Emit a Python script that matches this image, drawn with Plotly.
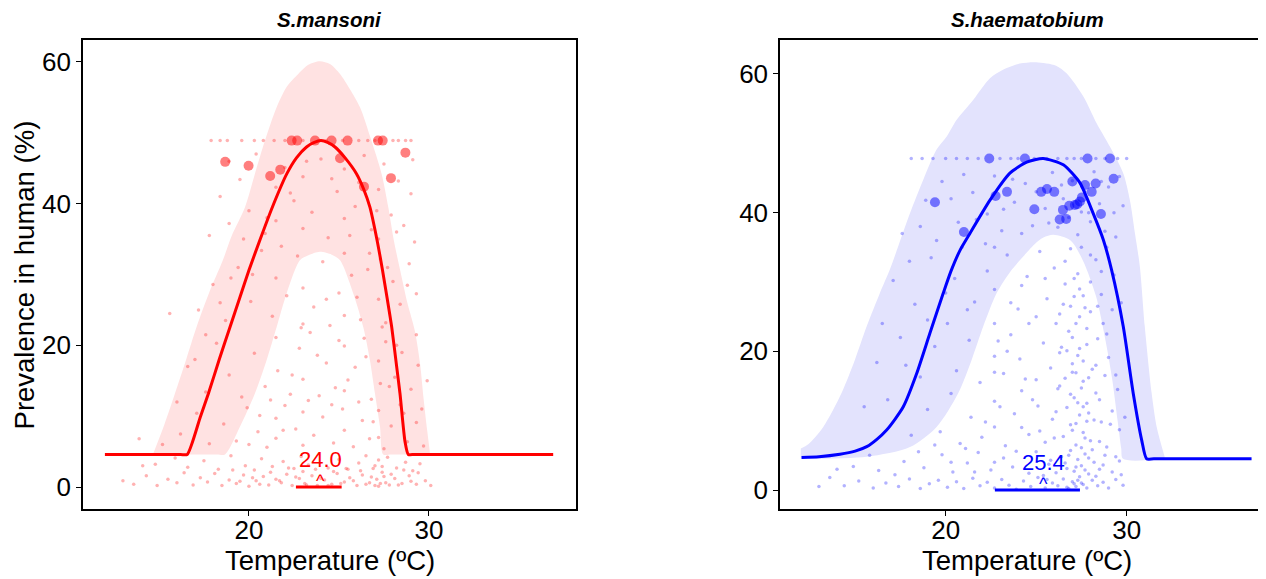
import plotly.graph_objects as go

FONT = "Liberation Sans, Arial, sans-serif"

# ---------------- S. mansoni (left panel) ----------------
man_curve_x = [12.0, 16.2, 16.57, 17.3, 17.75, 18.35, 18.95, 19.5, 20.0, 20.6, 21.3, 22.1, 22.65, 23.2,
               23.6, 24.0, 24.4, 24.78, 25.33, 25.98, 26.38, 26.72, 27.12, 27.42, 27.68, 27.93, 28.2, 28.39,
               28.67, 28.85, 29.2, 36.9]
man_curve_y = [4.6, 4.6, 4.6, 9.9, 13.2, 18.0, 22.6, 26.8, 30.6, 34.8, 39.5, 44.2, 46.5, 48.0,
               48.6, 48.9, 48.6, 48.0, 46.5, 44.2, 42.0, 39.5, 34.8, 30.6, 26.6, 22.6, 17.1, 13.2,
               6.4, 4.6, 4.6, 4.6]

# credible band, both edges left -> right
man_upper_x = [14.68, 15.3, 15.89, 16.5, 17.09, 17.8, 18.55, 19.05, 19.78, 20.33, 20.89, 21.54, 22.1, 22.74,
               23.3, 23.94, 24.5, 25.06, 25.6, 26.17, 26.8, 27.37, 27.74, 28.05, 28.4, 28.8, 29.22, 29.5,
               29.7, 29.9, 30.06]
man_upper_y = [4.7, 8.8, 13.2, 17.9, 22.6, 27.5, 32.0, 35.5, 39.5, 44.2, 48.9, 53.6, 56.5, 58.3,
               59.6, 60.1, 59.7, 58.3, 56.2, 53.6, 48.9, 44.2, 39.5, 34.8, 30.6, 26.0, 22.0, 17.5,
               12.5, 8.0, 4.7]
man_lower_x = [14.68, 18.2, 18.67, 19.5, 20.33, 20.98, 21.54, 22.09, 22.83, 23.3, 23.94, 24.6, 25.06, 25.8,
               26.35, 26.72, 27.0, 27.28, 27.46, 27.9, 30.06]
man_lower_y = [4.6, 4.6, 4.6, 8.5, 13.2, 17.9, 22.6, 27.3, 32.0, 32.7, 33.2, 32.8, 32.0, 27.3,
               22.6, 17.9, 13.2, 8.5, 4.6, 4.6, 4.6]

# site-level points drawn large
man_obs = [(18.68, 45.9), (19.98, 45.35), (21.18, 43.9), (21.74, 44.8), (22.37, 48.9), (22.68, 48.9),
           (23.67, 48.9), (24.59, 48.9), (25.06, 46.4), (25.48, 48.9), (26.39, 42.4), (27.17, 48.9),
           (27.43, 48.9), (27.89, 43.6), (28.69, 47.2)]

# survey points (small, faint)
man_pts = [
    (13.6, 0.4), (14.3, 1.6), (14.9, 0.2), (15.5, 1.1), (16.0, 0.6), (16.4, 2.0), (16.9, 0.3), (17.3, 1.3),
    (17.7, 0.7), (18.1, 1.9), (18.5, 0.2), (18.9, 1.0), (19.3, 0.5), (19.7, 1.7), (20.0, 0.1), (20.4, 0.9),
    (20.8, 1.5), (21.1, 0.3), (21.5, 1.1), (21.8, 0.6), (22.1, 1.8), (22.4, 0.2), (22.8, 1.2), (23.1, 0.5),
    (23.5, 1.6), (23.8, 0.2), (24.2, 1.0), (24.6, 0.4), (24.9, 1.9), (25.3, 0.7), (25.6, 1.3), (26.0, 0.2),
    (26.3, 1.7), (26.7, 0.6), (27.0, 0.2), (27.1, 1.1), (27.3, 0.5), (27.5, 1.5), (27.8, 0.3), (28.1, 1.2),
    (28.5, 0.5), (28.9, 1.6), (29.3, 0.4), (29.8, 0.9), (30.1, 0.2),
    (19.1, 2.4), (19.5, 0.8), (20.2, 1.3), (20.6, 0.4), (21.2, 2.1), (21.7, 0.9), (22.2, 2.7), (22.6, 1.4),
    (23.0, 2.2), (23.2, 0.3), (23.7, 2.5), (24.0, 1.2), (24.4, 0.2), (24.7, 2.2), (25.1, 0.5), (25.4, 2.6),
    (25.8, 0.9), (26.2, 2.3), (26.5, 0.4), (26.8, 1.4), (27.0, 3.0), (27.2, 0.1), (27.4, 2.1), (27.6, 0.6),
    (27.9, 1.8), (28.3, 0.3), (28.6, 2.4), (29.0, 0.8), (29.4, 2.0), (13.0, 0.9), (14.1, 3.0), (15.2, 6.0),
    (14.8, 3.2), (15.9, 4.1), (16.6, 2.8), (17.5, 3.7), (18.3, 2.5), (19.0, 4.4), (19.8, 3.0), (20.3, 2.4),
    (20.7, 4.0), (21.3, 2.9), (21.9, 3.6), (22.5, 2.6), (22.9, 4.3), (23.3, 3.1), (24.4, 2.7), (25.0, 3.9),
    (25.5, 2.5), (26.1, 3.4), (26.5, 4.4), (26.9, 2.6), (27.2, 3.8), (27.4, 2.9), (27.7, 4.2), (28.2, 2.7),
    (28.7, 3.5), (29.1, 2.3), (29.5, 3.3),
    (13.9, 6.8), (16.2, 7.5), (17.1, 10.4), (17.8, 6.1), (18.6, 8.9), (19.3, 6.5), (19.9, 11.2), (20.5, 7.8),
    (21.0, 5.6), (21.5, 9.7), (21.5, 6.9), (22.0, 11.5), (22.6, 8.2), (23.0, 5.9), (23.0, 10.6), (23.6, 7.3),
    (24.1, 9.9), (24.7, 6.2), (25.2, 11.0), (25.3, 8.0), (25.8, 5.7), (26.3, 9.4), (26.7, 6.8), (27.2, 10.8),
    (27.2, 7.0), (27.5, 5.4), (27.9, 8.6), (28.4, 11.6), (28.8, 6.4), (29.3, 9.1), (29.7, 5.8), (16.0, 12.0),
    (20.0, 6.0), (20.6, 10.1), (21.2, 12.3), (21.9, 8.0), (22.4, 15.8), (22.9, 22.5), (23.3, 12.2),
    (23.8, 18.6), (24.3, 26.5), (24.6, 11.6), (25.0, 20.7), (25.5, 15.1), (26.0, 26.8), (26.1, 12.0),
    (26.5, 18.4), (26.9, 9.2), (27.4, 22.6), (27.8, 14.2), (28.2, 20.0), (28.6, 10.4),
    (15.6, 24.5), (16.6, 17.0), (17.6, 13.4), (18.2, 20.3), (18.9, 15.8), (19.6, 12.7), (20.3, 18.9),
    (20.9, 14.2), (21.5, 21.1), (21.6, 16.4), (22.3, 13.1), (22.8, 19.6), (23.0, 15.2), (23.4, 21.8),
    (23.9, 12.9), (24.3, 17.5), (24.8, 14.0), (25.3, 19.9), (25.3, 13.6), (25.9, 16.9), (26.4, 21.0),
    (26.8, 12.4), (27.2, 17.8), (27.3, 14.6), (27.6, 20.5), (28.1, 15.5), (28.5, 19.0), (29.0, 13.8),
    (29.4, 17.2), (29.9, 15.0),
    (17.2, 25.0), (18.0, 28.6), (18.7, 23.5), (19.4, 31.0), (20.1, 26.2), (20.7, 33.4), (21.3, 24.1),
    (21.5, 29.5), (22.1, 27.0), (22.7, 32.6), (23.0, 23.0), (23.0, 28.1), (23.6, 25.4), (24.1, 31.8),
    (24.5, 22.8), (25.0, 27.4), (25.3, 24.2), (25.3, 33.0), (25.7, 29.9), (26.2, 23.6), (26.6, 30.7),
    (27.2, 26.5), (27.3, 32.2), (27.6, 23.2), (28.0, 29.0), (28.4, 25.8), (28.9, 31.5), (29.3, 27.3),
    (17.0, 18.0), (17.6, 21.5), (18.4, 26.0), (19.0, 29.5), (19.7, 35.0), (20.2, 30.0), (21.0, 38.0),
    (21.8, 34.0), (22.3, 41.5), (23.2, 46.0), (24.6, 43.5), (25.6, 35.5), (26.1, 43.0), (26.7, 33.0),
    (27.1, 39.0), (27.7, 31.0), (28.2, 36.0), (28.8, 28.5), (29.3, 21.5), (29.6, 11.0),
    (17.8, 35.5), (18.4, 41.0), (18.9, 37.2), (18.9, 46.0), (19.5, 43.4), (20.0, 39.0), (20.4, 47.0),
    (20.9, 35.8), (21.5, 42.3), (21.5, 37.6), (22.0, 45.1), (22.5, 40.4), (23.0, 36.5), (23.0, 43.8),
    (23.5, 38.8), (24.0, 46.3), (24.4, 35.2), (24.9, 41.7), (25.3, 37.9), (25.3, 44.9), (25.9, 39.6),
    (26.4, 46.8), (26.8, 36.3), (27.2, 42.0), (27.2, 35.0), (27.5, 45.6), (27.9, 38.4), (28.3, 43.2),
    (28.6, 36.9), (29.0, 41.4), (29.1, 46.2), (29.2, 34.6),
    (17.9, 48.9), (18.4, 48.9), (18.8, 48.9), (19.6, 48.9), (20.3, 48.9), (20.8, 48.9), (21.4, 48.9),
    (22.0, 48.9), (23.0, 48.9), (24.3, 48.9), (25.2, 48.9), (26.1, 48.9), (26.6, 48.9), (27.0, 48.9),
    (28.0, 48.9), (28.3, 48.9), (28.7, 48.9), (29.0, 48.9),
]

man_topt = 24.0
man_topt_range = [22.61, 25.15]

# ---------------- S. haematobium (right panel) ----------------
hae_curve_x = [12.04, 13.0, 14.16, 15.0, 15.64, 16.2, 16.74, 17.2, 17.66, 18.4, 19.13, 19.87, 20.3, 20.8, 21.34,
               22.45, 23.55, 24.48, 25.39, 26.5, 27.42, 28.15, 28.71, 29.17, 29.81, 30.36, 30.83, 31.1, 31.5, 36.9]
hae_curve_y = [4.7, 4.8, 5.15, 5.6, 6.25, 7.3, 8.66, 10.2, 12.0, 16.8, 22.6, 28.4, 31.6, 34.6, 37.0,
               41.8, 45.7, 47.3, 47.8, 46.9, 44.3, 39.9, 36.1, 31.7, 23.6, 14.0, 7.2, 4.5, 4.5, 4.5]

hae_upper_x = [12.0, 12.41, 13.24, 14.25, 14.99, 15.64, 16.37, 16.95, 17.4, 18.03, 18.76, 19.5, 20.06, 20.61,
               21.53, 22.45, 23.17, 24.1, 25.0, 26.1, 26.68, 27.6, 28.34, 29.08, 29.81, 30.18, 30.46, 30.73,
               31.0, 31.38, 31.66, 32.1]
hae_upper_y = [6.0, 6.6, 9.1, 14.0, 18.8, 23.6, 28.4, 32.0, 35.3, 39.9, 44.7, 49.1, 51.0, 53.4,
               56.3, 59.4, 60.6, 61.5, 61.7, 61.2, 60.1, 56.8, 52.9, 49.5, 45.7, 41.8, 37.0, 32.2,
               23.6, 14.0, 9.1, 4.8]
hae_lower_x = [12.0, 15.64, 18.03, 19.5, 20.7, 21.44, 22.08, 22.82, 23.6, 24.3, 24.9, 25.4, 25.95, 26.9, 27.6,
               28.3, 28.8, 29.2, 29.5, 29.7, 29.8, 32.1]
hae_lower_y = [4.5, 4.8, 6.2, 9.1, 14.0, 18.8, 23.6, 28.4, 31.6, 33.7, 35.4, 36.4, 36.8, 36.0, 33.0,
               28.0, 22.0, 16.0, 10.0, 6.0, 4.5, 4.5]

hae_obs = [(19.41, 41.5), (21.01, 37.2), (22.41, 47.8), (22.76, 42.4), (23.39, 43.0), (24.38, 47.8),
           (24.9, 40.5), (25.28, 43.0), (25.6, 43.4), (26.0, 43.0), (26.3, 39.0), (26.66, 39.1),
           (26.48, 40.4), (26.83, 41.0), (27.0, 44.5), (27.14, 41.1), (27.27, 41.2), (27.42, 41.6),
           (27.53, 42.2), (27.7, 44.0), (27.84, 47.8), (28.07, 43.0), (28.29, 44.2), (28.58, 39.8),
           (29.08, 47.8), (29.28, 44.9)]

hae_pts = [
    (13.6, 1.8), (14.4, 0.6), (15.2, 1.3), (16.0, 0.3), (16.7, 1.0), (17.4, 0.5), (18.0, 1.6), (18.6, 0.2),
    (19.1, 0.9), (19.6, 1.4), (20.1, 0.4), (20.6, 1.2), (21.0, 0.2), (21.5, 1.7), (21.9, 0.6), (22.3, 1.1),
    (22.7, 0.3), (23.1, 1.5), (23.5, 0.7), (23.9, 0.1), (24.3, 1.3), (24.7, 0.5), (25.1, 1.8), (25.5, 0.3),
    (25.9, 1.0), (26.2, 0.6), (26.5, 1.6), (26.8, 0.2), (27.0, 1.2), (27.2, 0.5), (27.4, 1.9), (27.6, 0.8),
    (27.8, 0.3), (28.1, 1.4), (28.4, 0.6), (28.7, 1.1), (29.0, 0.3), (29.4, 1.5), (29.8, 0.7),
    (14.9, 3.4), (16.3, 2.8), (17.7, 4.1), (18.8, 3.2), (19.8, 5.1), (20.4, 2.6), (21.2, 3.9), (21.8, 5.4),
    (22.5, 2.9), (23.2, 4.6), (23.7, 3.3), (24.6, 2.4), (25.0, 5.5), (25.7, 3.7), (26.1, 2.5), (26.4, 4.8),
    (26.7, 3.1), (26.9, 5.7), (27.1, 2.7), (27.3, 4.4), (27.5, 3.5), (27.7, 5.2), (27.9, 2.3), (28.2, 4.0),
    (28.5, 3.0), (28.8, 5.0), (29.2, 2.6), (29.6, 4.2),
    (16.8, 13.0), (18.1, 7.9), (19.0, 11.6), (19.7, 8.4), (20.3, 13.9), (20.8, 6.7), (21.4, 10.5),
    (22.0, 7.6), (22.7, 12.8), (22.7, 9.1), (23.3, 6.4), (23.8, 11.0), (24.2, 14.3), (24.6, 8.0),
    (25.1, 12.1), (25.5, 6.9), (25.9, 10.2), (26.2, 14.6), (26.5, 7.7), (26.7, 11.9), (26.9, 9.4),
    (27.1, 13.3), (27.2, 6.5), (27.4, 10.8), (27.6, 8.3), (27.8, 12.5), (28.0, 7.1), (28.3, 14.0),
    (28.6, 9.8), (28.9, 6.2), (29.2, 11.4), (29.6, 8.7),
    (16.2, 18.4), (17.5, 22.0), (18.6, 16.3), (19.4, 20.7), (20.1, 24.0), (20.6, 17.2), (21.3, 21.6),
    (21.9, 15.5), (22.7, 19.3), (22.7, 24.0), (23.2, 16.8), (23.6, 22.4), (24.1, 18.9), (24.6, 24.0),
    (25.0, 15.9), (25.4, 21.2), (25.8, 17.6), (26.1, 24.0), (26.3, 19.8), (26.6, 16.1), (26.8, 22.9),
    (27.0, 18.2), (27.2, 24.0), (27.4, 20.4), (27.6, 15.7), (27.8, 23.3), (28.1, 17.4), (28.4, 21.8),
    (28.7, 24.0), (29.0, 19.1), (29.4, 16.6),
    (17.1, 30.2), (18.3, 26.8), (19.2, 33.5), (20.0, 28.4), (20.9, 35.0), (21.6, 27.1), (22.3, 31.6),
    (22.7, 35.0), (22.7, 28.9), (23.4, 33.9), (24.0, 26.1), (24.5, 30.8), (25.2, 34.4), (25.6, 27.6),
    (26.0, 32.0), (26.3, 25.4), (26.6, 29.7), (26.9, 34.8), (27.1, 27.9), (27.3, 31.2), (27.5, 35.0),
    (27.7, 26.3), (28.0, 30.0), (28.3, 33.2), (28.6, 28.2), (28.9, 35.0), (29.3, 31.0), (29.7, 27.0),
    (17.6, 37.0), (18.9, 41.8), (19.8, 44.5), (20.7, 38.6), (21.5, 42.9), (22.3, 39.8), (22.7, 45.3),
    (23.1, 37.4), (23.8, 41.5), (24.4, 44.2), (24.8, 38.1), (25.5, 40.6), (25.9, 45.8), (26.2, 37.9),
    (26.5, 42.0), (26.8, 39.3), (27.0, 44.6), (27.3, 36.8), (27.5, 40.1), (27.7, 43.0), (28.0, 38.7),
    (28.2, 45.9), (28.5, 41.3), (28.8, 37.3), (29.0, 43.7), (29.3, 40.0), (29.6, 45.2),
    (26.6, 3.9), (27.0, 8.6), (27.3, 1.4), (27.5, 6.1), (27.8, 9.9), (27.2, 16.9), (26.9, 26.5),
    (27.6, 12.0), (27.4, 29.0), (26.7, 20.1), (27.9, 4.6), (27.1, 0.9),
    (25.6, 1.5), (25.8, 4.3), (26.0, 7.5), (26.1, 11.3), (26.3, 15.0), (26.4, 20.6), (26.5, 26.8),
    (26.6, 33.0), (26.7, 0.4), (26.8, 5.0), (26.9, 13.8), (27.0, 17.0), (27.0, 22.0), (27.1, 30.5),
    (27.2, 3.3), (27.2, 9.6), (27.3, 12.6), (27.3, 19.4), (27.4, 25.0), (27.5, 1.0), (27.5, 14.7),
    (27.6, 18.6), (27.6, 28.0), (27.7, 2.9), (27.7, 7.5), (27.8, 21.0), (27.9, 11.1), (27.9, 16.2),
    (28.0, 25.7), (28.0, 33.9), (28.1, 5.8), (28.2, 10.1), (28.3, 2.0), (28.3, 18.0), (28.4, 26.5),
    (28.5, 7.0), (28.5, 13.0), (28.6, 31.5), (28.7, 3.6), (28.8, 16.5), (28.9, 22.5), (29.1, 9.5),
    (29.2, 26.0), (29.4, 4.8), (29.5, 14.5), (29.7, 2.2), (29.9, 10.5),
    (21.1, 6.0), (21.6, 2.6), (22.2, 9.8), (22.7, 4.0), (22.7, 17.0), (23.0, 12.0), (23.4, 20.0),
    (23.9, 5.6), (24.2, 9.0), (24.4, 16.0), (24.8, 13.0), (25.0, 25.0), (25.2, 8.5), (25.4, 2.1),
    (25.5, 30.5), (24.2, 29.5), (23.6, 27.0), (22.9, 21.5), (20.3, 4.0), (19.4, 6.5), (18.5, 5.5),
    (17.2, 2.2), (15.8, 5.0), (14.0, 3.0), (13.0, 0.5),
    (18.0, 33.0), (18.6, 38.0), (19.5, 36.0), (20.3, 42.0), (21.0, 45.5), (21.7, 39.0), (22.2, 35.5),
    (23.2, 40.5), (23.7, 44.8), (24.2, 37.0), (25.0, 43.0), (25.7, 38.5), (26.4, 44.0), (27.9, 40.0),
    (28.6, 44.5), (29.4, 36.5), (29.8, 41.0), (16.5, 24.0), (15.5, 12.0), (17.8, 18.0), (19.0, 24.5),
    (20.5, 30.5), (21.2, 26.0),
    (18.1, 47.8), (18.7, 47.8), (19.3, 47.8), (20.0, 47.8), (20.6, 47.8), (21.2, 47.8), (21.8, 47.8),
    (23.0, 47.8), (23.6, 47.8), (24.0, 47.8), (24.9, 47.8), (25.6, 47.8), (26.2, 47.8), (26.7, 47.8),
    (27.1, 47.8), (27.5, 47.8), (28.3, 47.8), (28.8, 47.8), (29.5, 47.8), (30.0, 47.8),
]

hae_topt = 25.4
hae_topt_range = [22.72, 27.42]

y_ticks = [0, 20, 40, 60]
x_ticks = [20, 30]


def add_panel(fig, xa, ya, color, band_color, curve_x, curve_y, up_x, up_y, lo_x, lo_y,
              pts, obs, topt, topt_range):
    fig.add_trace(go.Scatter(x=lo_x, y=lo_y, mode='lines', line=dict(width=0, shape='spline', smoothing=0.8),
                             hoverinfo='skip', xaxis=xa, yaxis=ya))
    fig.add_trace(go.Scatter(x=up_x, y=up_y, mode='lines', fill='tonexty', fillcolor=band_color,
                             line=dict(width=0, shape='spline', smoothing=0.8),
                             hoverinfo='skip', xaxis=xa, yaxis=ya))
    fig.add_trace(go.Scatter(x=[p[0] for p in pts], y=[p[1] for p in pts], mode='markers',
                             marker=dict(size=3.5, color=color, opacity=0.3), xaxis=xa, yaxis=ya))
    fig.add_trace(go.Scatter(x=curve_x, y=curve_y, mode='lines',
                             line=dict(color=color, width=3, shape='spline', smoothing=0.6),
                             xaxis=xa, yaxis=ya))
    fig.add_trace(go.Scatter(x=[p[0] for p in obs], y=[p[1] for p in obs], mode='markers',
                             marker=dict(size=10, color=color, opacity=0.5), xaxis=xa, yaxis=ya))
    fig.add_trace(go.Scatter(x=topt_range, y=[0, 0], mode='lines', line=dict(color=color, width=3),
                             xaxis=xa, yaxis=ya))
    fig.add_annotation(x=topt, y=3.9, xref=xa, yref=ya, text='%.1f' % topt, showarrow=False,
                       font=dict(size=22, color=color, family=FONT))
    fig.add_annotation(x=topt, y=0.9, xref=xa, yref=ya, text='^', showarrow=False,
                       font=dict(size=18, color=color, family=FONT))


fig = go.Figure()
add_panel(fig, 'x', 'y', 'red', '#FFE2E2', man_curve_x, man_curve_y, man_upper_x, man_upper_y,
          man_lower_x, man_lower_y, man_pts, man_obs, man_topt, man_topt_range)
add_panel(fig, 'x2', 'y2', 'blue', '#E3E3FD', hae_curve_x, hae_curve_y, hae_upper_x, hae_upper_y,
          hae_lower_x, hae_lower_y, hae_pts, hae_obs, hae_topt, hae_topt_range)

axis = dict(showline=True, linecolor='black', linewidth=1.5, mirror=True, ticks='outside', ticklen=5,
            tickwidth=1.2, tickcolor='black', showgrid=False, zeroline=False,
            tickfont=dict(size=26, color='black', family=FONT))

fig.update_layout(
    width=1266, height=579, showlegend=False,
    paper_bgcolor='white', plot_bgcolor='white',
    margin=dict(l=0, r=0, t=32, b=78),
    font=dict(family=FONT, color='black'),
    xaxis=dict(axis, domain=[0.0592, 0.4487], range=[10.78, 38.17], tickvals=x_ticks, ticklabelstandoff=-8),
    yaxis=dict(axis, range=[-3.1, 63.1], tickvals=y_ticks),
    xaxis2=dict(axis, domain=[0.6098, 1.0], range=[10.85, 38.14], tickvals=x_ticks, anchor='y2',
                ticklabelstandoff=-8),
    yaxis2=dict(axis, range=[-2.74, 64.9], tickvals=y_ticks, anchor='x2', mirror=False),
)

for xa, title in [('x', 'S.mansoni'), ('x2', 'S.haematobium')]:
    fig.add_annotation(x=0.5, y=1.043, xref=xa + ' domain', yref='paper', text='<b><i>%s</i></b>' % title,
                       showarrow=False, font=dict(size=20.5, family=FONT), yanchor='middle')
    fig.add_annotation(x=0.5, y=-0.109, xref=xa + ' domain', yref='paper', text='Temperature (ºC)',
                       showarrow=False, font=dict(size=27.5, family=FONT), yanchor='middle')

fig.add_annotation(x=0.0134, y=0.5, xref='paper', yref='paper', text='Prevalence in human (%)',
                   textangle=-90, showarrow=False, font=dict(size=27.5, family=FONT),
                   xanchor='center', yanchor='middle')

fig.write_html("out.html")
